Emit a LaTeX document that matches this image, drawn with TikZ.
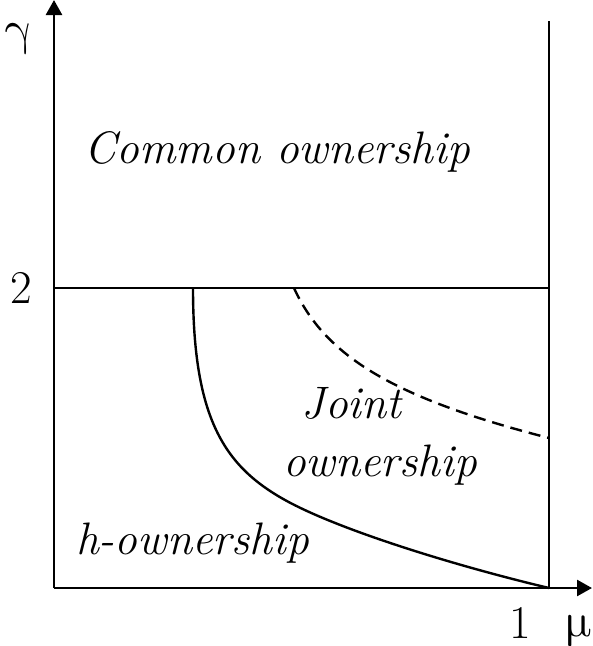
\documentclass[tikz,border=0pt]{standalone}
\usepackage{fontspec}
\newfontfamily\greekfont{latinmodern-math.otf}
\usetikzlibrary{arrows.meta}
\tikzset{
  axisline/.style={line width=2.6pt,-{Triangle[length=15pt,width=16pt]}},
  boundline/.style={line width=2.4pt},
  dashline/.style={line width=2.4pt,dash pattern=on 12pt off 7pt},
  lbl/.style={font=\fontsize{47}{56}\selectfont, inner sep=0pt, anchor=base},
  glbl/.style={font=\fontsize{48}{58}\selectfont\greekfont, inner sep=0pt, anchor=base},
  reg/.style={lbl, font=\fontsize{45.5}{54}\selectfont\itshape}
}
\begin{document}
\begin{tikzpicture}[x=1pt,y=-1pt]
\useasboundingbox (0,0) rectangle (593,646);
% key points
\coordinate (O) at (54,588);
\coordinate (ytop) at (54,0);
\coordinate (xend) at (592,588);
\coordinate (Rtop) at (549,21);
\coordinate (Rbot) at (549,588);
\coordinate (L2) at (54,288);
\coordinate (R2) at (549,288);
\coordinate (S0) at (193,288);
\coordinate (S1) at (285,500);
\coordinate (D0) at (294,288);
\coordinate (D1) at (549,438);
% axes
\draw[axisline] (O) -- (ytop);
\draw[axisline] (O) -- (xend);
% boundaries
\draw[boundline] (Rbot) -- (Rtop);
\draw[boundline] (L2) -- (R2);
\draw[boundline] (S0) .. controls (193,418) and (224,466) .. (S1)
  .. controls (337,529) and (452,565) .. (Rbot);
\draw[dashline] (D0) .. controls (325,356) and (393,398) .. (D1);
% axis labels
\node[glbl] (gam) at (19,44) {γ};
\node[lbl] (two) at (21,303) {2};
\node[lbl] (one) at (520,638) {1};
\node[glbl] (mu) at (578,636) {μ};
% region labels
\node[reg] (common) at (277.5,163) {Common ownership};
\node[reg] (joint) at (351.5,418) {Joint};
\node[reg] (jown) at (380,476) {ownership};
\node[reg] (hown) at (192.5,554) {h-ownership};
\end{tikzpicture}
\end{document}
